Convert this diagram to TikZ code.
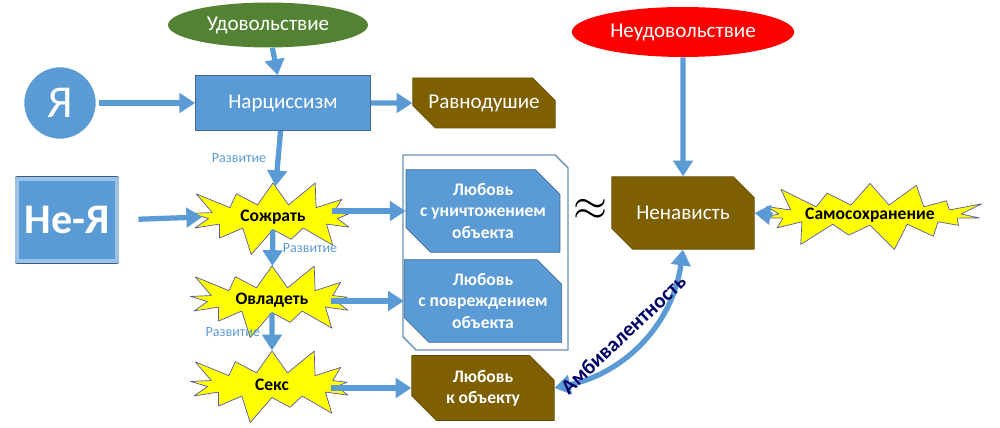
\documentclass[tikz,border=0pt]{standalone}
\usepackage{fontspec}
\setmainfont{Carlito}
\usetikzlibrary{shapes.misc,shapes.symbols,shapes.geometric,arrows.meta,positioning}
\definecolor{boxblue}{HTML}{5B9BD5}
\definecolor{boxbrown}{HTML}{7F6000}
\definecolor{darkgreen}{HTML}{548235}
\definecolor{burst}{HTML}{FFFF00}
\tikzset{
  arr/.style={-{Triangle[length=9pt,width=11pt]}, line width=3pt, draw=boxblue},
  snip/.style={chamfered rectangle, chamfered rectangle corners={north east,south west}, chamfered rectangle xsep=7pt, chamfered rectangle ysep=7pt, minimum width=2.85cm, minimum height=1.42cm, inner sep=1pt, align=center, font=\bfseries, text=white},
  bluebox/.style={snip, fill=boxblue, draw=boxblue!70!black},
  brownbox/.style={snip, fill=boxbrown, draw=boxbrown!80!black},
  boom/.style={starburst, starburst points=13, starburst point height=0.6cm, fill=burst, draw=gray!70!blue, font=\bfseries, minimum width=3.8cm, minimum height=1.7cm, inner sep=0pt},
  dev/.style={font=\footnotesize, text=boxblue},
}
\begin{document}
\begin{tikzpicture}[x=0.02cm, y=-0.02cm, line join=round]
\useasboundingbox (0,0) rectangle (1000,428);
% top row
\node[ellipse, fill=darkgreen, minimum width=4cm, minimum height=0.9cm, text=white, font=\large] (pleasure) at (268,25) {Удовольствие};
\node[ellipse, fill=red, minimum width=4.4cm, minimum height=1cm, text=white, font=\large] (displeasure) at (683,32) {Неудовольствие};
\node[circle, fill=boxblue, draw=white, line width=2pt, minimum size=1.5cm, text=white, font=\fontsize{26}{26}\selectfont] (ego) at (60,103) {Я};
\node[rectangle, fill=boxblue, draw=boxblue!70!black, minimum width=3.5cm, minimum height=1.1cm, text=white, font=\large] (narc) at (283,103) {Нарциссизм};
\node[brownbox, font=\large, minimum height=1cm] (indiff) at (484,103) {Равнодушие};
% non-ego column
\node[rectangle, fill=boxblue, draw=boxblue!60!black, double=boxblue!60, double distance=2pt, minimum width=2cm, minimum height=1.65cm, text=white, font=\bfseries\fontsize{24}{24}\selectfont] (nonego) at (67,220) {Не-Я};
\node[boom] (eat) at (273,217) {Сожрать};
\node[boom] (own) at (272,300) {Овладеть};
\node[boom] (sex) at (272,385) {Секс};
% love boxes
\draw[boxblue!60!gray, line width=0.8pt] (403,155) -- (555,155) -- (568,168) -- (568,350) -- (416,350) -- (403,337) -- cycle;
\node[bluebox] (love1) at (483,211) {Любовь\\с уничтожением\\объекта};
\node[bluebox] (love2) at (483,301) {Любовь\\с повреждением\\объекта};
\node[brownbox, minimum height=1.3cm] (love3) at (483,388) {Любовь\\к объекту};
\node[font=\bfseries\fontsize{30}{30}\selectfont] (approx) at (590,210) {$\approx$};
\node[brownbox, font=\large\mdseries, minimum width=2.85cm, minimum height=1.45cm] (hate) at (683,213) {Ненависть};
\node[boom, starburst points=15, minimum width=3.6cm, minimum height=1.6cm] (selfpres) at (870,215) {Самосохранение};
% connectors
\draw[arr] (pleasure) -- (narc);
\draw[arr] (ego) -- (narc);
\draw[arr] (narc) -- (indiff);
\draw[arr] (displeasure) -- (hate);
\draw[arr] (narc) -- node[dev, left=2pt]{Развитие} (eat);
\draw[arr, shorten <=12pt] (nonego.east) -- (eat.west);
\draw[arr] (eat) -- node[dev, right=1pt]{Развитие} (own);
\draw[arr] (own) -- node[dev, left=2pt]{Развитие} (sex);
\draw[arr, shorten <=-6pt] (eat.east |- love1.west) -- (love1.west);
\draw[arr, shorten <=-6pt] (own.east |- love2.west) -- (love2.west);
\draw[arr, shorten <=-6pt] (sex.east |- love3.west) -- (love3.west);
\draw[arr] (selfpres.west) -- (hate.east);
\draw[arr, {Triangle[length=9pt,width=11pt]}-{Triangle[length=9pt,width=11pt]}] (love3.east) to[bend right=35] node[sloped, above=1pt, pos=0.45, font=\bfseries\large, text=blue!40!black]{Амбивалентность} (hate.south);
\end{tikzpicture}
\end{document}
